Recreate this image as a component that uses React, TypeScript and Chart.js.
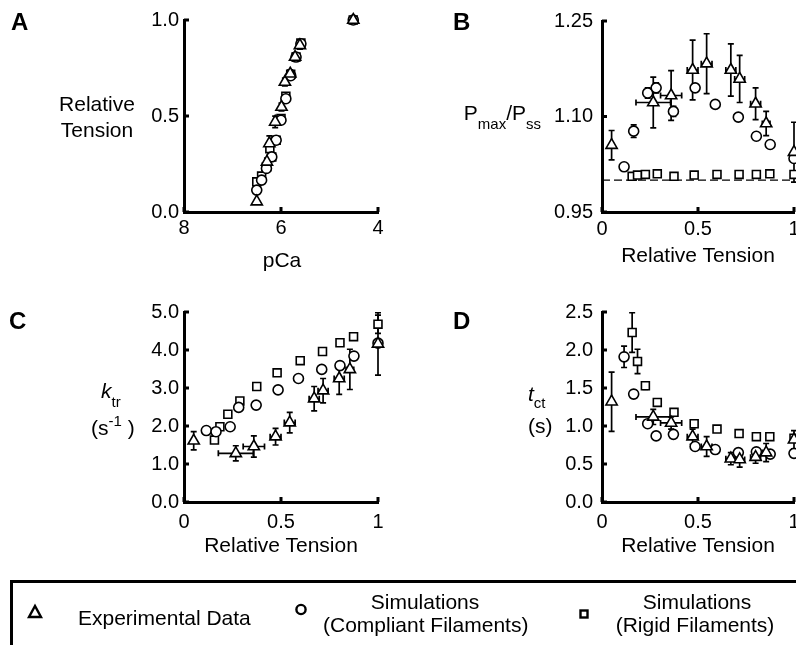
import React, { useEffect, useRef } from "react";
import { Chart, registerables } from "chart.js";
Chart.register(...registerables);

// ---------------- Panel A : Relative tension vs pCa ----------------
const pCaExpA = [6.5, 6.29, 6.24, 6.12, 5.99, 5.92, 5.81, 5.71, 5.61, 4.51];
const tensionExpA = [0.054, 0.261, 0.357, 0.469, 0.547, 0.677, 0.72, 0.807, 0.868, 1.0];
const tensionExpErrA = [0, 0.02, 0.04, 0.03, 0.02, 0.02, 0.02, 0.02, 0.02, 0.01];
const pCaCompA = [6.5, 6.4, 6.3, 6.19, 6.1, 6.0, 5.9, 5.8, 5.69, 5.59, 4.51];
const tensionCompA = [0.114, 0.166, 0.227, 0.287, 0.374, 0.478, 0.59, 0.71, 0.807, 0.876, 1.0];
const pCaRigidA = [6.5, 6.4, 6.3, 6.23, 6.19, 6.1, 6.0, 5.9, 5.8, 5.69, 5.59, 4.51];
const tensionRigidA = [0.157, 0.187, 0.235, 0.33, 0.287, 0.374, 0.487, 0.603, 0.717, 0.807, 0.88, 1.0];

// ---------------- Shared relative tension (x) for B, C, D ----------------
const tensionExp = [0.05, 0.267, 0.36, 0.472, 0.545, 0.671, 0.717, 0.8, 0.855, 1.0];
const tensionExpErr = [0, 0.09, 0.055, 0.028, 0.028, 0.026, 0.026, 0.026, 0.02, 0];
const tensionComp = [0.115, 0.165, 0.238, 0.282, 0.372, 0.485, 0.59, 0.71, 0.804, 0.876, 1.0];
const tensionRigid = [0.157, 0.185, 0.226, 0.288, 0.375, 0.48, 0.599, 0.714, 0.804, 0.874, 1.0];

// ---------------- Panel B : Pmax/Pss ----------------
const pmaxExpB = [1.055, 1.122, 1.133, 1.173, 1.183, 1.173, 1.159, 1.12, 1.089, 1.044];
const pmaxExpErrB = [0.023, 0.04, 0.039, 0.047, 0.047, 0.041, 0.037, 0.025, 0.019, 0.047];
const pmaxCompB = [1.021, 1.077, 1.137, 1.145, 1.108, 1.145, 1.119, 1.099, 1.069, 1.056, 1.034];
const pmaxCompErrB = [0, 0.01, 0.008, 0.008, 0.008, 0.006, 0, 0, 0, 0, 0];
const pmaxRigidB = [1.006, 1.008, 1.009, 1.01, 1.006, 1.008, 1.009, 1.009, 1.009, 1.01, 1.009];
const baselineB = 1.0;
const baselineRangeB = [0, 1];

// ---------------- Panel C : ktr ----------------
const ktrExpC = [1.61, 1.28, 1.46, 1.72, 2.09, 2.72, 2.93, 3.25, 3.49, 4.16];
const ktrExpErrC = [0.24, 0.2, 0.28, 0.22, 0.27, 0.32, 0.32, 0.42, 0.53, 0.82];
const ktrCompC = [1.88, 1.85, 1.98, 2.49, 2.55, 2.95, 3.25, 3.49, 3.59, 3.84, 4.18];
const ktrRigidC = [1.63, 1.98, 2.31, 2.66, 3.04, 3.4, 3.72, 3.96, 4.19, 4.35, 4.68];
const ktrRigidErrC = [0, 0, 0, 0, 0, 0, 0, 0, 0, 0, 0.24];

// ---------------- Panel D : tct ----------------
const tctExpD = [1.32, 1.12, 1.04, 0.86, 0.73, 0.57, 0.56, 0.59, 0.65, 0.82];
const tctExpErrD = [0.39, 0.1, 0.08, 0.1, 0.13, 0.08, 0.1, 0.08, 0.12, 0.12];
const tctCompD = [1.91, 1.42, 1.03, 0.87, 0.89, 0.73, 0.69, 0.65, 0.66, 0.63, 0.64];
const tctCompErrD = [0.14, 0.05, 0, 0, 0, 0, 0, 0, 0, 0, 0];
const tctRigidD = [2.23, 1.85, 1.53, 1.31, 1.18, 1.03, 0.96, 0.9, 0.86, 0.86, 0.84];
const tctRigidErrD = [0.26, 0.16, 0.05, 0, 0, 0, 0, 0, 0, 0, 0];

// ---------------- Tick values / labels ----------------
const pCaTicks = [8, 6, 4];
const pCaTickLabels = ["8", "6", "4"];
const tensionTicksA = [0, 0.5, 1];
const tensionTickLabelsA = ["0.0", "0.5", "1.0"];
const relTensionTicks = [0, 0.5, 1];
const relTensionTickLabels = ["0", "0.5", "1"];
const pmaxTicks = [0.95, 1.1, 1.25];
const pmaxTickLabels = ["0.95", "1.10", "1.25"];
const ktrTicks = [0, 1, 2, 3, 4, 5];
const ktrTickLabels = ["0.0", "1.0", "2.0", "3.0", "4.0", "5.0"];
const tctTicks = [0, 0.5, 1, 1.5, 2, 2.5];
const tctTickLabels = ["0.0", "0.5", "1.0", "1.5", "2.0", "2.5"];

const FONT = "'Liberation Sans', Arial, Helvetica, sans-serif";

const pts = (xs: number[], ys: number[]) => xs.map((x, i) => ({ x, y: ys[i] }));

const figurePlugin = {
  id: "figurePlugin",
  beforeDatasetsDraw(chart: any) {
    const ctx = chart.ctx;
    const xs = chart.scales.x;
    const ys = chart.scales.y;
    ctx.save();
    ctx.strokeStyle = "#000";
    ctx.lineWidth = 1.7;
    const cap = 3;
    chart.data.datasets.forEach((ds: any) => {
      const yErr: number[] | undefined = ds.yErr;
      const xErr: number[] | undefined = ds.xErr;
      if (!yErr && !xErr) return;
      ds.data.forEach((p: any, j: number) => {
        const px = xs.getPixelForValue(p.x);
        const py = ys.getPixelForValue(p.y);
        if (yErr && yErr[j]) {
          const y1 = ys.getPixelForValue(p.y + yErr[j]);
          const y2 = ys.getPixelForValue(p.y - yErr[j]);
          ctx.beginPath();
          ctx.moveTo(px, y1);
          ctx.lineTo(px, y2);
          ctx.moveTo(px - cap, y1);
          ctx.lineTo(px + cap, y1);
          ctx.moveTo(px - cap, y2);
          ctx.lineTo(px + cap, y2);
          ctx.stroke();
        }
        if (xErr && xErr[j]) {
          const x1 = xs.getPixelForValue(p.x - xErr[j]);
          const x2 = xs.getPixelForValue(p.x + xErr[j]);
          ctx.beginPath();
          ctx.moveTo(x1, py);
          ctx.lineTo(x2, py);
          ctx.moveTo(x1, py - cap);
          ctx.lineTo(x1, py + cap);
          ctx.moveTo(x2, py - cap);
          ctx.lineTo(x2, py + cap);
          ctx.stroke();
        }
      });
    });
    ctx.restore();
  },
  afterDraw(chart: any) {
    const { ctx, chartArea } = chart;
    const xs = chart.scales.x;
    const ys = chart.scales.y;
    ctx.save();
    ctx.strokeStyle = "#000";
    ctx.lineWidth = 3;
    ctx.beginPath();
    ys.ticks.forEach((t: any) => {
      const y = ys.getPixelForValue(t.value);
      ctx.moveTo(chartArea.left, y);
      ctx.lineTo(chartArea.left + 5, y);
    });
    xs.ticks.forEach((t: any) => {
      const x = xs.getPixelForValue(t.value);
      ctx.moveTo(x, chartArea.bottom);
      ctx.lineTo(x, chartArea.bottom - 5);
    });
    ctx.stroke();
    ctx.restore();
  },
};

const markerBase = {
  pointBackgroundColor: "#fff",
  pointBorderColor: "#000",
  pointBorderWidth: 1.6,
  backgroundColor: "#fff",
  borderColor: "#000",
  clip: false as any,
};
const triStyle = { ...markerBase, pointStyle: "triangle", pointRadius: 6.5 };
const circStyle = { ...markerBase, pointStyle: "circle", pointRadius: 5 };
const rectStyle = { ...markerBase, pointStyle: "rect", pointRadius: 5.6 };

type PanelSpec = {
  left: number;
  top: number;
  width: number;
  height: number;
  yAxisWidth: number;
  padRight: number;
  padTop: number;
  xAxisHeight: number;
  xMin: number;
  xMax: number;
  xReverse?: boolean;
  xTicks: number[];
  xLabels: string[];
  xPad: number;
  yMin: number;
  yMax: number;
  yTicks: number[];
  yLabels: string[];
  yPad: number;
  datasets: any[];
};

const panels: PanelSpec[] = [
  {
    left: 0, top: 0, width: 398, height: 290,
    yAxisWidth: 184, padRight: 20, padTop: 20, xAxisHeight: 78,
    xMin: 4, xMax: 8, xReverse: true, xTicks: pCaTicks, xLabels: pCaTickLabels, xPad: 4,
    yMin: 0, yMax: 1, yTicks: tensionTicksA, yLabels: tensionTickLabelsA, yPad: 5,
    datasets: [
      { ...triStyle, data: pts(pCaExpA, tensionExpA), yErr: tensionExpErrA },
      { ...circStyle, data: pts(pCaCompA, tensionCompA) },
      { ...rectStyle, data: pts(pCaRigidA, tensionRigidA) },
    ],
  },
  {
    left: 398, top: 0, width: 410, height: 290,
    yAxisWidth: 204, padRight: 14, padTop: 20, xAxisHeight: 78,
    xMin: 0, xMax: 1, xTicks: relTensionTicks, xLabels: relTensionTickLabels, xPad: 5,
    yMin: 0.95, yMax: 1.25, yTicks: pmaxTicks, yLabels: pmaxTickLabels, yPad: 9,
    datasets: [
      { ...triStyle, data: pts(tensionExp, pmaxExpB), yErr: pmaxExpErrB, xErr: tensionExpErr },
      { ...circStyle, data: pts(tensionComp, pmaxCompB), yErr: pmaxCompErrB },
      { ...rectStyle, data: pts(tensionRigid, pmaxRigidB) },
      {
        data: baselineRangeB.map((x) => ({ x, y: baselineB })),
        showLine: true,
        borderColor: "#000",
        borderWidth: 1.4,
        borderDash: [8, 4],
        pointRadius: 0,
        clip: false,
      },
    ],
  },
  {
    left: 0, top: 290, width: 398, height: 290,
    yAxisWidth: 184, padRight: 20, padTop: 22, xAxisHeight: 78,
    xMin: 0, xMax: 1, xTicks: relTensionTicks, xLabels: relTensionTickLabels, xPad: 8,
    yMin: 0, yMax: 5, yTicks: ktrTicks, yLabels: ktrTickLabels, yPad: 5,
    datasets: [
      { ...triStyle, data: pts(tensionExp, ktrExpC), yErr: ktrExpErrC, xErr: tensionExpErr },
      { ...circStyle, data: pts(tensionComp, ktrCompC) },
      { ...rectStyle, data: pts(tensionRigid, ktrRigidC), yErr: ktrRigidErrC },
    ],
  },
  {
    left: 398, top: 290, width: 410, height: 290,
    yAxisWidth: 204, padRight: 14, padTop: 22, xAxisHeight: 78,
    xMin: 0, xMax: 1, xTicks: relTensionTicks, xLabels: relTensionTickLabels, xPad: 8,
    yMin: 0, yMax: 2.5, yTicks: tctTicks, yLabels: tctTickLabels, yPad: 9,
    datasets: [
      { ...triStyle, data: pts(tensionExp, tctExpD), yErr: tctExpErrD, xErr: tensionExpErr },
      { ...circStyle, data: pts(tensionComp, tctCompD), yErr: tctCompErrD },
      { ...rectStyle, data: pts(tensionRigid, tctRigidD), yErr: tctRigidErrD },
    ],
  },
];

function Panel({ spec }: { spec: PanelSpec }) {
  const ref = useRef<HTMLCanvasElement | null>(null);
  useEffect(() => {
    if (!ref.current) return;
    const tickFont = { family: FONT, size: 20 };
    const chart = new Chart(ref.current, {
      type: "scatter",
      data: { datasets: spec.datasets },
      plugins: [figurePlugin as any],
      options: {
        responsive: false,
        animation: false,
        events: [],
        layout: { padding: { left: 0, right: spec.padRight, top: spec.padTop, bottom: 0 } },
        plugins: { legend: { display: false }, tooltip: { enabled: false } },
        scales: {
          x: {
            type: "linear",
            min: spec.xMin,
            max: spec.xMax,
            reverse: !!spec.xReverse,
            grid: { display: false, drawTicks: false },
            border: { display: true, width: 3, color: "#000" },
            ticks: {
              font: tickFont,
              color: "#000",
              padding: spec.xPad,
              maxRotation: 0,
              autoSkip: false,
              callback: (_v: any, i: number) => spec.xLabels[i],
            },
            afterBuildTicks: (s: any) => {
              s.ticks = spec.xTicks.map((v) => ({ value: v }));
            },
            afterFit: (s: any) => {
              s.height = spec.xAxisHeight;
            },
          },
          y: {
            type: "linear",
            min: spec.yMin,
            max: spec.yMax,
            grid: { display: false, drawTicks: false },
            border: { display: true, width: 3, color: "#000" },
            ticks: {
              font: tickFont,
              color: "#000",
              padding: spec.yPad,
              autoSkip: false,
              callback: (_v: any, i: number) => spec.yLabels[i],
            },
            afterBuildTicks: (s: any) => {
              s.ticks = spec.yTicks.map((v) => ({ value: v }));
            },
            afterFit: (s: any) => {
              s.width = spec.yAxisWidth;
            },
          },
        },
      } as any,
    });
    return () => chart.destroy();
  }, [spec]);
  return (
    <canvas
      ref={ref}
      width={spec.width}
      height={spec.height}
      style={{ position: "absolute", left: spec.left, top: spec.top, width: spec.width, height: spec.height }}
    />
  );
}

const T = ({
  left,
  top,
  size = 21,
  width,
  align,
  bold,
  children,
}: {
  left: number;
  top: number;
  size?: number;
  width?: number;
  align?: "left" | "center" | "right";
  bold?: boolean;
  children: React.ReactNode;
}) => (
  <div
    style={{
      position: "absolute",
      left,
      top,
      width,
      textAlign: align || "left",
      fontSize: size,
      lineHeight: 1,
      fontWeight: bold ? 700 : 400,
      fontFamily: FONT,
      color: "#000",
      whiteSpace: "nowrap",
    }}
  >
    {children}
  </div>
);

const Sub = ({ children, dy = 8 }: { children: React.ReactNode; dy?: number }) => (
  <span style={{ position: "relative", top: dy, fontSize: 15 }}>{children}</span>
);

export default function App() {
  return (
    <div
      style={{
        position: "fixed",
        left: 0,
        top: 0,
        width: 796,
        height: 645,
        overflow: "hidden",
        background: "#fff",
      }}
    >
      {panels.map((p, i) => (
        <Panel key={i} spec={p} />
      ))}

      {/* panel letters */}
      <T left={11} top={10} size={24} bold>A</T>
      <T left={453} top={10} size={24} bold>B</T>
      <T left={9} top={309} size={24} bold>C</T>
      <T left={453} top={309} size={24} bold>D</T>

      {/* axis titles A */}
      <T left={37} top={92.5} width={120} align="center">Relative</T>
      <T left={37} top={119} width={120} align="center">Tension</T>
      <T left={222} top={249} width={120} align="center">pCa</T>

      {/* axis titles B */}
      <T left={420} top={101.5} width={121} align="right">
        P<Sub dy={9}>max</Sub>/P<Sub dy={9}>ss</Sub>
      </T>
      <T left={598} top={244} width={200} align="center">Relative Tension</T>

      {/* axis titles C */}
      <T left={101} top={379.5}>
        <i>k</i>
        <Sub dy={9}>tr</Sub>
      </T>
      <T left={91} top={417}>
        (s<span style={{ position: "relative", top: -9, fontSize: 15 }}>-1</span> )
      </T>
      <T left={181} top={534} width={200} align="center">Relative Tension</T>

      {/* axis titles D */}
      <T left={528} top={383}>
        <i>t</i>
        <Sub dy={7}>ct</Sub>
      </T>
      <T left={528} top={415}>(s)</T>
      <T left={598} top={534} width={200} align="center">Relative Tension</T>

      {/* legend */}
      <div
        style={{
          position: "absolute",
          left: 10,
          top: 580,
          width: 900,
          height: 200,
          border: "3px solid #000",
          boxSizing: "border-box",
        }}
      />
      <svg
        width={796}
        height={645}
        style={{ position: "absolute", left: 0, top: 0, pointerEvents: "none" }}
      >
        <polygon points="29,617 41,617 35,606" fill="#fff" stroke="#000" strokeWidth={2.4} />
        <circle cx={301} cy={609.5} r={4.6} fill="#fff" stroke="#000" strokeWidth={2.4} />
        <rect x={580.5} y={610.5} width={7} height={7} fill="#fff" stroke="#000" strokeWidth={2.4} />
      </svg>
      <T left={78} top={607}>Experimental Data</T>
      <T left={325} top={591} width={200} align="center">Simulations</T>
      <T left={323} top={614} width={205} align="center">(Compliant Filaments)</T>
      <T left={597} top={591} width={200} align="center">Simulations</T>
      <T left={595} top={614} width={200} align="center">(Rigid Filaments)</T>
    </div>
  );
}
